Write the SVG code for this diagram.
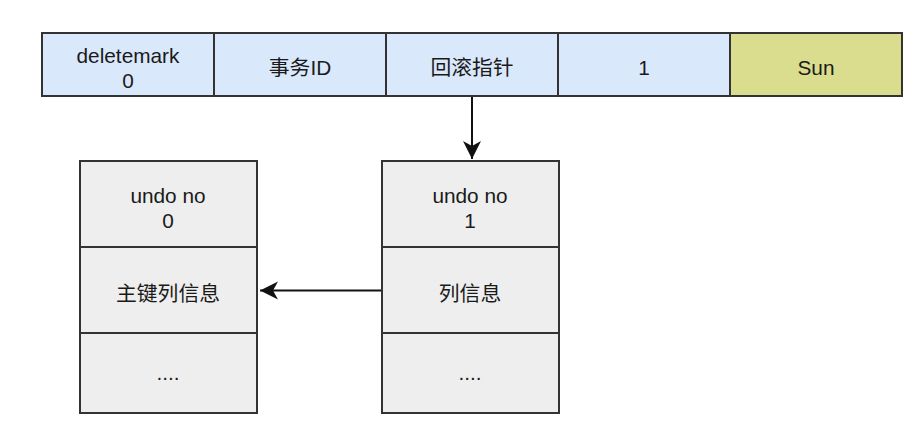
<svg xmlns="http://www.w3.org/2000/svg" width="911" height="427" viewBox="0 0 911 427">
<defs>
<style>
.cell{stroke:#333333;stroke-width:2}
.blue{fill:#dae8fc}
.yel{fill:#dbdd8e}
.gray{fill:#eeeeee}
text{font-family:"Liberation Sans","Noto Sans CJK SC",Arial,sans-serif;font-size:20.8px;fill:#1a1a1a;text-anchor:middle}
.conn{stroke:#111;stroke-width:2;fill:none}
</style>
<marker id="arr" viewBox="0 0 20 20" refX="18" refY="10" markerWidth="20" markerHeight="20" markerUnits="userSpaceOnUse" orient="auto">
<path d="M0,1 L18,10 L0,19 L5,10 Z" fill="#111"/>
</marker>
</defs>
<rect width="911" height="427" fill="#ffffff"/>
<g id="record">
<g id="cell-deletemark"><rect class="cell blue" x="42" y="33" width="172" height="63"/><text x="128" y="62.5">deletemark</text><text x="128" y="87.5">0</text></g>
<g id="cell-txid"><rect class="cell blue" x="214" y="33" width="172" height="63"/><text x="300" y="74.5">事务ID</text></g>
<g id="cell-rollptr"><rect class="cell blue" x="386" y="33" width="172" height="63"/><text x="472" y="74.5">回滚指针</text></g>
<g id="cell-1"><rect class="cell blue" x="558" y="33" width="172" height="63"/><text x="644" y="74.5">1</text></g>
<g id="cell-sun"><rect class="cell yel" x="730" y="33" width="172" height="63"/><text x="816" y="74.5">Sun</text></g>
</g>
<g id="undo0">
<rect class="cell gray" x="80" y="161" width="177" height="86"/>
<rect class="cell gray" x="80" y="247" width="177" height="86"/>
<rect class="cell gray" x="80" y="333" width="177" height="80"/>
<text x="168" y="202.5">undo no</text><text x="168" y="227.5">0</text>
<text x="168" y="301">主键列信息</text>
<text x="168" y="380">....</text>
</g>
<g id="undo1">
<rect class="cell gray" x="382" y="161" width="177" height="86"/>
<rect class="cell gray" x="382" y="247" width="177" height="86"/>
<rect class="cell gray" x="382" y="333" width="177" height="80"/>
<text x="470" y="202.5">undo no</text><text x="470" y="227.5">1</text>
<text x="470" y="301">列信息</text>
<text x="470" y="380">....</text>
</g>
<g id="connectors">
<line class="conn" x1="472" y1="97" x2="472" y2="159" marker-end="url(#arr)"/>
<line class="conn" x1="381" y1="290.5" x2="260" y2="290.5" marker-end="url(#arr)"/>
</g>
</svg>
